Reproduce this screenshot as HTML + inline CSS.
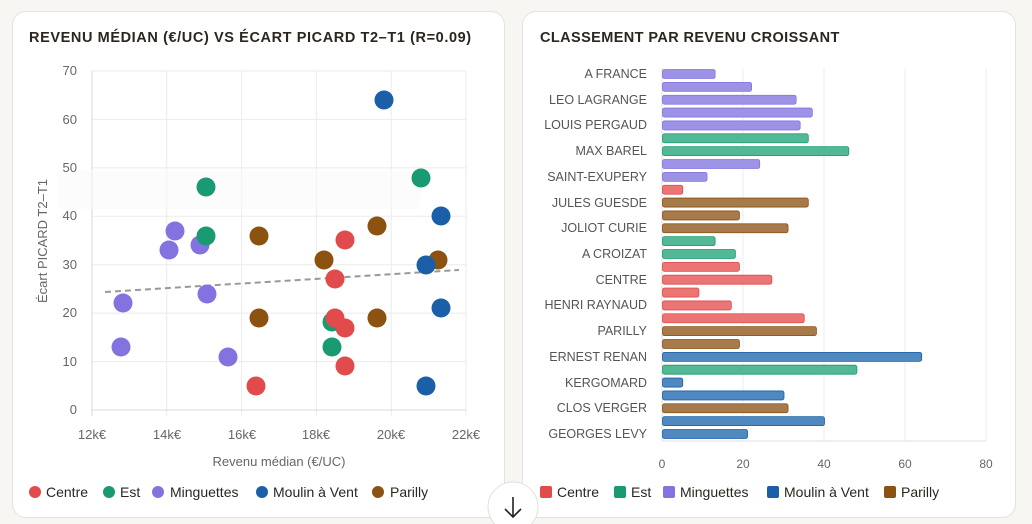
<!DOCTYPE html>
<html><head><meta charset="utf-8"><style>
body{margin:0;width:1032px;height:524px;background:#f7f6f2;font-family:"Liberation Sans",sans-serif;overflow:hidden;position:relative}
.card{position:absolute;top:11px;background:#fff;border:1px solid #e4e2dd;border-radius:14px;box-sizing:border-box}
svg{position:absolute;left:0;top:0}
</style></head><body>
<div class="card" style="left:12px;width:493px;height:507px"></div>
<div class="card" style="left:522px;width:494px;height:507px"></div>
<svg width="1032" height="524" font-family="Liberation Sans, sans-serif">
<text x="29" y="42" font-size="14.5" font-weight="bold" fill="#2b2620" letter-spacing="0.6">REVENU MÉDIAN (€/UC) VS ÉCART PICARD T2–T1 (R=0.09)</text>
<text x="540" y="42" font-size="14.5" font-weight="bold" fill="#2b2620" letter-spacing="0.4">CLASSEMENT PAR REVENU CROISSANT</text>
<g stroke="#ebebeb" stroke-width="1">
<line x1="92" y1="71" x2="466" y2="71"/><line x1="92" y1="119.4" x2="466" y2="119.4"/><line x1="92" y1="167.9" x2="466" y2="167.9"/><line x1="92" y1="216.3" x2="466" y2="216.3"/><line x1="92" y1="264.7" x2="466" y2="264.7"/><line x1="92" y1="313.1" x2="466" y2="313.1"/><line x1="92" y1="361.6" x2="466" y2="361.6"/>
<line x1="166.8" y1="71" x2="166.8" y2="416"/><line x1="241.6" y1="71" x2="241.6" y2="416"/><line x1="316.4" y1="71" x2="316.4" y2="416"/><line x1="391.2" y1="71" x2="391.2" y2="416"/><line x1="466" y1="71" x2="466" y2="416"/>
</g>
<line x1="92" y1="410" x2="466" y2="410" stroke="#d8d8d8"/><line x1="92" y1="71" x2="92" y2="416" stroke="#d8d8d8"/>
<rect x="57" y="170" width="364" height="39" rx="8" fill="#fafafa" opacity="0.6"/>
<g font-size="13" fill="#666" text-anchor="end">
<text x="77" y="75">70</text><text x="77" y="124">60</text><text x="77" y="172">50</text><text x="77" y="220">40</text><text x="77" y="269">30</text><text x="77" y="317">20</text><text x="77" y="366">10</text><text x="77" y="414">0</text></g>
<g font-size="13" fill="#666" text-anchor="middle">
<text x="92" y="439">12k€</text><text x="167" y="439">14k€</text><text x="242" y="439">16k€</text><text x="316" y="439">18k€</text><text x="391" y="439">20k€</text><text x="466" y="439">22k€</text>
<text x="279" y="466">Revenu médian (€/UC)</text>
<text transform="translate(47,241) rotate(-90)">Écart PICARD T2–T1</text></g>
<line x1="105" y1="292" x2="459" y2="270" stroke="#999" stroke-width="2" stroke-dasharray="6,4"/>
<g>
<circle cx="206" cy="187" r="9.5" fill="#1a9a72"/><circle cx="421" cy="178" r="9.5" fill="#1a9a72"/>
<circle cx="384" cy="100" r="9.5" fill="#1b5fa8"/><circle cx="441" cy="216" r="9.5" fill="#1b5fa8"/>
<circle cx="377" cy="226" r="9.5" fill="#8b5210"/><circle cx="345" cy="240" r="9.5" fill="#e14b4b"/>
<circle cx="175" cy="231" r="9.5" fill="#8373e0"/><circle cx="169" cy="250" r="9.5" fill="#8373e0"/><circle cx="200" cy="245" r="9.5" fill="#8373e0"/>
<circle cx="206" cy="236" r="9.5" fill="#1a9a72"/><circle cx="259" cy="236" r="9.5" fill="#8b5210"/>
<circle cx="324" cy="260" r="9.5" fill="#8b5210"/><circle cx="438" cy="260" r="9.5" fill="#8b5210"/><circle cx="426" cy="265" r="9.5" fill="#1b5fa8"/>
<circle cx="335" cy="279" r="9.5" fill="#e14b4b"/><circle cx="123" cy="303" r="9.5" fill="#8373e0"/><circle cx="207" cy="294" r="9.5" fill="#8373e0"/>
<circle cx="259" cy="318" r="9.5" fill="#8b5210"/><circle cx="377" cy="318" r="9.5" fill="#8b5210"/>
<circle cx="332" cy="322" r="9.5" fill="#1a9a72"/><circle cx="335" cy="318" r="9.5" fill="#e14b4b"/><circle cx="345" cy="328" r="9.5" fill="#e14b4b"/>
<circle cx="441" cy="308" r="9.5" fill="#1b5fa8"/><circle cx="121" cy="347" r="9.5" fill="#8373e0"/><circle cx="332" cy="347" r="9.5" fill="#1a9a72"/>
<circle cx="228" cy="357" r="9.5" fill="#8373e0"/><circle cx="345" cy="366" r="9.5" fill="#e14b4b"/><circle cx="256" cy="386" r="9.5" fill="#e14b4b"/><circle cx="426" cy="386" r="9.5" fill="#1b5fa8"/>
</g>
<g font-size="14" fill="#2b2620">
<circle cx="35" cy="492" r="6" fill="#e14b4b"/><text x="46" y="497">Centre</text>
<circle cx="109" cy="492" r="6" fill="#1a9a72"/><text x="120" y="497">Est</text>
<circle cx="158" cy="492" r="6" fill="#8373e0"/><text x="170" y="497">Minguettes</text>
<circle cx="262" cy="492" r="6" fill="#1b5fa8"/><text x="273" y="497">Moulin à Vent</text>
<circle cx="378" cy="492" r="6" fill="#8b5210"/><text x="390" y="497">Parilly</text>
</g>
<g stroke="#ececec"><line x1="743" y1="68" x2="743" y2="441"/><line x1="824" y1="68" x2="824" y2="441"/><line x1="905" y1="68" x2="905" y2="441"/><line x1="986" y1="68" x2="986" y2="441"/></g>
<line x1="662" y1="441" x2="986" y2="441" stroke="#e0e0e0"/><line x1="662" y1="68" x2="662" y2="441" stroke="#e0e0e0"/>
<g font-size="12" fill="#666" text-anchor="middle"><text x="662" y="468">0</text><text x="743" y="468">20</text><text x="824" y="468">40</text><text x="905" y="468">60</text><text x="986" y="468">80</text></g>
<g id="bars"></g>
<g font-size="12.5" fill="#555" text-anchor="end">
<text x="647" y="78">A FRANCE</text><text x="647" y="104">LEO LAGRANGE</text><text x="647" y="129">LOUIS PERGAUD</text><text x="647" y="155">MAX BAREL</text><text x="647" y="181">SAINT-EXUPERY</text><text x="647" y="207">JULES GUESDE</text><text x="647" y="232">JOLIOT CURIE</text><text x="647" y="258">A CROIZAT</text><text x="647" y="284">CENTRE</text><text x="647" y="309">HENRI RAYNAUD</text><text x="647" y="335">PARILLY</text><text x="647" y="361">ERNEST RENAN</text><text x="647" y="387">KERGOMARD</text><text x="647" y="412">CLOS VERGER</text><text x="647" y="438">GEORGES LEVY</text>
</g>
<g font-size="14" fill="#2b2620">
<rect x="540" y="486" width="12" height="12" rx="2" fill="#e14b4b"/><text x="557" y="497">Centre</text>
<rect x="614" y="486" width="12" height="12" rx="2" fill="#1a9a72"/><text x="631" y="497">Est</text>
<rect x="663" y="486" width="12" height="12" rx="2" fill="#8373e0"/><text x="680" y="497">Minguettes</text>
<rect x="767" y="486" width="12" height="12" rx="2" fill="#1b5fa8"/><text x="784" y="497">Moulin à Vent</text>
<rect x="884" y="486" width="12" height="12" rx="2" fill="#8b5210"/><text x="901" y="497">Parilly</text>
</g>
<circle cx="513" cy="507" r="25" fill="#fff" stroke="#e2e0db"/>
<path d="M513 497 V517 M505 509 L513 517 L521 509" stroke="#222" stroke-width="1.6" fill="none"/>
</svg>
<script>
var v=[[13,'P'],[22,'P'],[33,'P'],[37,'P'],[34,'P'],[36,'E'],[46,'E'],[24,'P'],[11,'P'],[5,'C'],[36,'B'],[19,'B'],[31,'B'],[13,'E'],[18,'E'],[19,'C'],[27,'C'],[9,'C'],[17,'C'],[35,'C'],[38,'B'],[19,'B'],[64,'M'],[48,'E'],[5,'M'],[30,'M'],[31,'B'],[40,'M'],[21,'M']];
var col={P:['#9d93e6','#8373e0'],E:['#52b895','#1a9a72'],C:['#eb7474','#e14b4b'],B:['#a67a4a','#8b5210'],M:['#5088c0','#1b5fa8']};
var s='';v.forEach(function(d,i){var y=74+i*12.857-4.5;s+='<rect x="662.5" y="'+y+'" width="'+(d[0]*4.05)+'" height="9" rx="2" fill="'+col[d[1]][0]+'" stroke="'+col[d[1]][1]+'" stroke-width="0.8"/>';});
document.getElementById('bars').innerHTML=s;
</script>
</body></html>
